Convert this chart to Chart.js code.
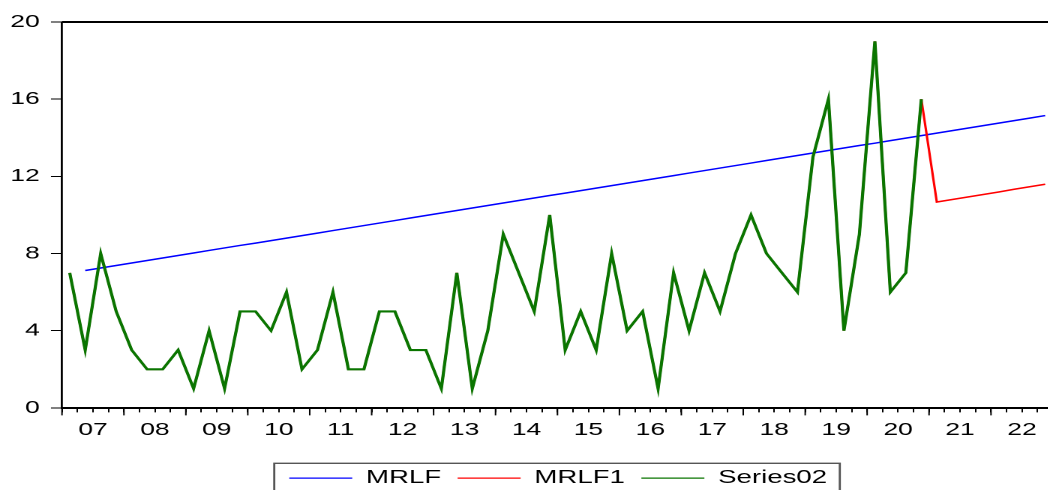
<!DOCTYPE html>
<html>
<head>
<meta charset="utf-8">
<script src="https://cdn.jsdelivr.net/npm/chart.js@4.4.1/dist/chart.umd.min.js"></script>
<style>
  html, body { margin: 0; padding: 0; background: #fff; overflow: hidden; width: 1048px; height: 490px; }
  #wrap { position: absolute; left: 0; top: 0; width: 704px; height: 490px; transform: scaleX(1.5); transform-origin: 0 0; }
</style>
</head>
<body>
<div id="wrap"><canvas id="c" width="704" height="490" style="width:704px;height:490px"></canvas></div>
<script>
// ---- data (quarterly, 2007Q1 .. 2022Q4) ----
const years = ['2007','2008','2009','2010','2011','2012','2013','2014','2015','2016','2017','2018','2019','2020','2021','2022'];
const yearTickLabels = ['07','08','09','10','11','12','13','14','15','16','17','18','19','20','21','22'];
const yTicks = [0, 4, 8, 12, 16, 20];

// Series02 (actual), 2007Q1 .. 2020Q4
const series02 = [
  7, 3, 8, 5,
  3, 2, 2, 3,
  1, 4, 1, 5,
  5, 4, 6, 2,
  3, 6, 2, 2,
  5, 5, 3, 3,
  1, 7, 1, 4,
  9, 7, 5, 10,
  3, 5, 3, 8,
  4, 5, 1, 7,
  4, 7, 5, 8,
  10, 8, 7, 6,
  13, 16, 4, 9,
  19, 6, 7, 16
];
// MRLF1 forecast part, 2021Q1 .. 2022Q4
const mrlf1Forecast = [10.67, 10.80, 10.93, 11.06, 11.19, 11.33, 11.46, 11.59];
// MRLF (trend line), 2007Q1 .. 2022Q4 (first quarter empty)
const mrlf = [
  null, 7.12, 7.25, 7.38,
  7.51, 7.64, 7.77, 7.90,
  8.03, 8.16, 8.29, 8.42,
  8.54, 8.67, 8.80, 8.93,
  9.06, 9.19, 9.32, 9.45,
  9.58, 9.71, 9.84, 9.97,
  10.10, 10.23, 10.36, 10.49,
  10.62, 10.75, 10.88, 11.01,
  11.13, 11.26, 11.39, 11.52,
  11.65, 11.78, 11.91, 12.04,
  12.17, 12.30, 12.43, 12.56,
  12.69, 12.82, 12.95, 13.08,
  13.21, 13.34, 13.47, 13.60,
  13.72, 13.85, 13.98, 14.11,
  14.24, 14.37, 14.50, 14.63,
  14.76, 14.89, 15.02, 15.15
];

// ---- build tables for the library ----
const categories = [];
years.forEach(y => { for (let q = 1; q <= 4; q++) categories.push(y + 'Q' + q); });
const mrlf1 = series02.concat(mrlf1Forecast);
const series02Full = series02.concat(mrlf1Forecast.map(() => null));

const FONT = "'Liberation Sans', Arial, sans-serif";

const framePlugin = {
  id: 'frame',
  afterLayout(chart) {
    const lg = chart.legend;
    if (lg) { lg.left += 20.5; lg.right += 20.5; lg.top += 7.3; lg.bottom += 7.3; }
  },
  afterDraw(chart) {
    const ctx = chart.ctx;
    const a = chart.chartArea;
    const xs = chart.scales.x;
    ctx.save();
    ctx.strokeStyle = '#000';
    // top frame line
    ctx.lineWidth = 2;
    ctx.beginPath();
    ctx.moveTo(a.left, a.top);
    ctx.lineTo(a.right, a.top);
    ctx.stroke();
    // longer year ticks
    ctx.lineWidth = 1;
    ctx.beginPath();
    for (let k = 0; k <= years.length; k++) {
      const x = xs.getPixelForValue(k * 4 - 0.5);
      ctx.moveTo(x, a.bottom);
      ctx.lineTo(x, a.bottom + 7.5);
    }
    ctx.stroke();
    // legend frame
    const hb = chart.legend && chart.legend.legendHitBoxes;
    if (hb && hb.length) {
      const l = hb[0].left - 10;
      const r = hb[hb.length - 1].left + hb[hb.length - 1].width + 8.5;
      ctx.strokeStyle = '#555';
      ctx.lineWidth = 1.4;
      ctx.strokeRect(l, 463.3, r - l, 60);
    }
    ctx.restore();
  }
};

new Chart(document.getElementById('c'), {
  type: 'line',
  data: {
    labels: categories,
    datasets: [
      { label: 'MRLF', data: mrlf, borderColor: '#0000ff', backgroundColor: '#0000ff', borderWidth: 1.5, order: 3 },
      { label: 'MRLF1', data: mrlf1, borderColor: '#ff0000', backgroundColor: '#ff0000', borderWidth: 1.6, order: 2 },
      { label: 'Series02', data: series02Full, borderColor: '#0a7500', backgroundColor: '#0a7500', borderWidth: 2.1, order: 1 }
    ]
  },
  options: {
    responsive: false,
    animation: false,
    devicePixelRatio: 2,
    layout: { padding: { top: 22, left: 0, right: 0.8, bottom: 0 } },
    elements: { point: { radius: 0, hoverRadius: 0 }, line: { tension: 0 } },
    plugins: {
      tooltip: { enabled: false },
      legend: {
        position: 'bottom',
        labels: {
          usePointStyle: true,
          pointStyle: 'line',
          pointStyleWidth: 42,
          padding: 11,
          color: '#000',
          font: { family: FONT, size: 18.4 },
          sort: (a, b) => a.datasetIndex - b.datasetIndex,
          generateLabels: (chart) => Chart.defaults.plugins.legend.labels.generateLabels(chart).map(l => Object.assign(l, { lineWidth: 1.3 }))
        }
      }
    },
    scales: {
      x: {
        type: 'category',
        offset: true,
        afterFit: (s) => { s.height = 42.7; },
        grid: { display: true, drawOnChartArea: false, drawTicks: true, tickLength: 4.5, offset: true, tickColor: '#000', tickWidth: 1 },
        border: { display: true, color: '#000', width: 2 },
        ticks: {
          autoSkip: false, maxRotation: 0, minRotation: 0,
          padding: 7.2, labelOffset: 5.17,
          color: '#000', font: { family: FONT, size: 17.6 },
          callback: (v, i) => (i % 4 === 1 ? yearTickLabels[Math.floor(i / 4)] : '')
        }
      },
      y: {
        min: 0, max: 20,
        afterFit: (s) => { s.width = 41.33; },
        afterBuildTicks: (s) => { s.ticks = yTicks.map(v => ({ value: v })); },
        grid: { display: true, drawOnChartArea: false, drawTicks: true, tickLength: 7.35, tickColor: '#000', tickWidth: 1 },
        border: { display: true, color: '#000', width: 1.4 },
        ticks: { padding: 7.5, color: '#000', font: { family: FONT, size: 17.6 } }
      }
    }
  },
  plugins: [framePlugin]
});
</script>
</body>
</html>
